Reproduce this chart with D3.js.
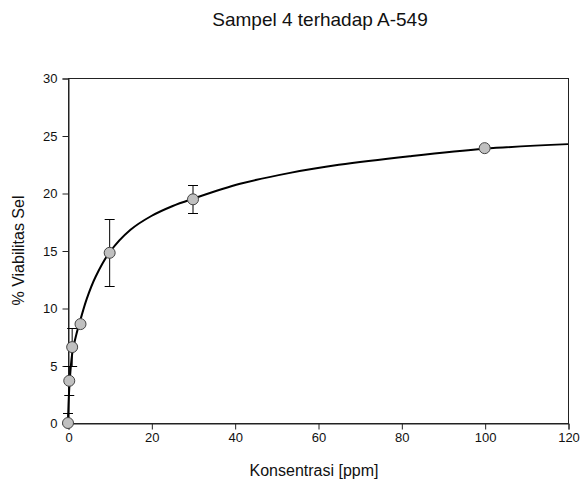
<!DOCTYPE html>
<html>
<head>
<meta charset="utf-8">
<script src="https://cdn.jsdelivr.net/npm/d3@7"></script>
<style>
  body { margin: 0; background: #fff; }
  text { font-family: "Liberation Sans", Arial, sans-serif; fill: #111; }
</style>
</head>
<body>
<div id="container"></div>
<script>
/* DATA */
const conc = [0, 0.3, 1, 3, 10, 30, 100];
const viab = [0, 3.67, 6.6, 8.6, 14.8, 19.45, 23.9];
const sd = [0.85, 1.25, 1.65, 0, 2.9, 1.23, 0];

// fitted line
const fitX = [0, 0.3, 1, 2, 3, 4.5, 6.6, 10, 15, 20, 25, 30, 41.3, 53.3, 65, 82, 100, 120];
const fitY = [0, 3.0, 6.0, 7.7, 9.0, 10.8, 12.7, 14.85, 16.8, 18.0, 18.85, 19.5, 20.8, 21.75, 22.45, 23.2, 23.85, 24.25];

const xTicks = [0, 20, 40, 60, 80, 100, 120];
const yTicks = [0, 5, 10, 15, 20, 25, 30];

/* CONSTANTS */
const width = 581, height = 482,
  margin = { top: 78, bottom: 59, left: 68, right: 13 };

const points = conc.map((c, i) => ({ x: c, y: viab[i], e: sd[i] }));
const fit = fitX.map((x, i) => ({ x: x, y: fitY[i] }));

// SCALES
const xScale = d3.scaleLinear()
  .domain([0, 120])
  .range([margin.left, width - margin.right]);

const yScale = d3.scaleLinear()
  .domain([0, 30])
  .range([height - margin.bottom, margin.top]);

const svg = d3.select("#container")
  .append("svg")
  .attr("width", width)
  .attr("height", height);

// FRAME
svg.append("rect")
  .attr("x", margin.left + 0.5)
  .attr("y", margin.top + 0.5)
  .attr("width", width - margin.left - margin.right)
  .attr("height", height - margin.top - margin.bottom)
  .attr("fill", "none")
  .attr("stroke", "#222")
  .attr("stroke-width", 1);

// AXES
const xAxis = d3.axisBottom(xScale).tickValues(xTicks).tickSize(6).tickPadding(3);
const yAxis = d3.axisLeft(yScale).tickValues(yTicks).tickSize(6).tickPadding(5);

const xg = svg.append("g")
  .attr("transform", `translate(0.5, ${height - margin.bottom + 0.5})`)
  .call(xAxis);
const yg = svg.append("g")
  .attr("transform", `translate(${margin.left + 0.5}, 0.5)`)
  .call(yAxis);

[xg, yg].forEach(g => {
  g.select(".domain").attr("stroke", "#222");
  g.selectAll(".tick line").attr("stroke", "#222");
  g.selectAll(".tick text")
    .attr("font-size", 13)
    .attr("font-family", "Liberation Sans, Arial, sans-serif")
    .attr("fill", "#111");
});

// TITLES
svg.append("text")
  .attr("x", 320)
  .attr("y", 26)
  .attr("text-anchor", "middle")
  .attr("font-size", 19)
  .text("Sampel 4 terhadap A-549");

svg.append("text")
  .attr("x", 314)
  .attr("y", 476)
  .attr("text-anchor", "middle")
  .attr("font-size", 16)
  .text("Konsentrasi [ppm]");

svg.append("text")
  .attr("transform", `translate(24, ${(margin.top + height - margin.bottom) / 2}) rotate(-90)`)
  .attr("text-anchor", "middle")
  .attr("font-size", 16)
  .text("% Viabilitas Sel");

// FITTED CURVE
const line = d3.line()
  .x(d => xScale(d.x))
  .y(d => yScale(d.y))
  .curve(d3.curveCatmullRom.alpha(0.5));

svg.append("path")
  .datum(fit)
  .attr("d", line)
  .attr("fill", "none")
  .attr("stroke", "#000")
  .attr("stroke-width", 2);

// ERROR BARS
const bars = svg.append("g")
  .selectAll("g")
  .data(points.filter(d => d.e > 0))
  .join("g")
  .attr("stroke", "#000")
  .attr("stroke-width", 1);

bars.append("line")
  .attr("x1", d => xScale(d.x))
  .attr("x2", d => xScale(d.x))
  .attr("y1", d => yScale(Math.max(0, d.y - d.e)))
  .attr("y2", d => yScale(d.y + d.e));

bars.append("line")
  .attr("x1", d => xScale(d.x) - 5)
  .attr("x2", d => xScale(d.x) + 5)
  .attr("y1", d => Math.round(yScale(d.y + d.e)) + 0.5)
  .attr("y2", d => Math.round(yScale(d.y + d.e)) + 0.5);

bars.filter(d => d.y - d.e > 0).append("line")
  .attr("x1", d => xScale(d.x) - 5)
  .attr("x2", d => xScale(d.x) + 5)
  .attr("y1", d => Math.round(yScale(d.y - d.e)) + 0.5)
  .attr("y2", d => Math.round(yScale(d.y - d.e)) + 0.5);

// MARKERS
svg.append("g")
  .selectAll("circle")
  .data(points)
  .join("circle")
  .attr("cx", d => xScale(d.x))
  .attr("cy", d => yScale(d.y))
  .attr("r", 5.5)
  .attr("fill", "#c0c0c0")
  .attr("stroke", "#444")
  .attr("stroke-width", 1);
</script>
</body>
</html>
